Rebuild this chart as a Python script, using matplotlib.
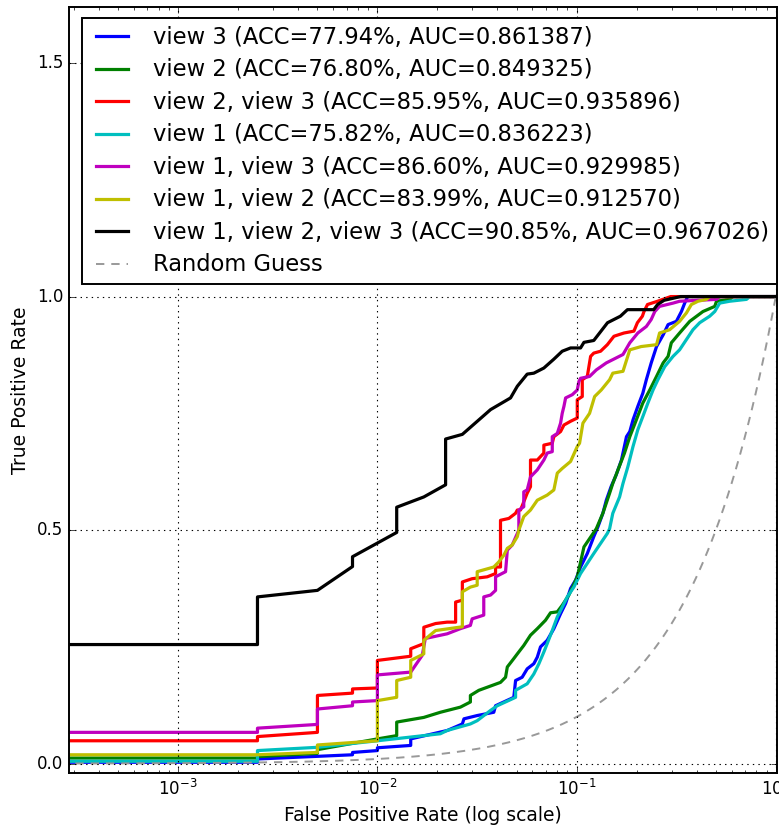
import numpy as np
import matplotlib
matplotlib.use("Agg")
from matplotlib import pyplot as plt

# ROC points (false positive rate, true positive rate) for each view combination
fpr_v3 = [0, 0.0025, 0.0025, 0.0075, 0.0075, 0.01, 0.01, 0.0147, 0.0147, 0.0224, 0.0267,
          0.0272, 0.0317, 0.0384, 0.0392, 0.0484, 0.0494, 0.0533, 0.0565, 0.061, 0.0635,
          0.0659, 0.0712, 0.0769, 0.0831, 0.0881, 0.0933, 0.0989, 0.1047, 0.1132, 0.122,
          0.128, 0.1355, 0.141, 0.149, 0.158, 0.168, 0.178, 0.185, 0.192, 0.203, 0.215,
          0.224, 0.237, 0.252, 0.272, 0.288, 0.317, 0.336, 0.349, 0.356, 0.361, 1.0]
tpr_v3 = [0.003, 0.003, 0.010, 0.019, 0.024, 0.028, 0.034, 0.039, 0.053, 0.071, 0.085,
          0.096, 0.103, 0.110, 0.124, 0.142, 0.178, 0.185, 0.203, 0.214, 0.228,
          0.250, 0.264, 0.289, 0.321, 0.343, 0.375, 0.393, 0.421, 0.450, 0.486,
          0.507, 0.536, 0.564, 0.593, 0.618, 0.650, 0.700, 0.711, 0.736, 0.765, 0.793,
          0.822, 0.858, 0.893, 0.918, 0.940, 0.947, 0.968, 0.986, 0.994, 1.0, 1.0]

fpr_v2 = [0, 0.0025, 0.0025, 0.005, 0.005, 0.01, 0.0125, 0.0125, 0.0171, 0.0207, 0.0261,
          0.0293, 0.0293, 0.0323, 0.0415, 0.044, 0.0449, 0.0484, 0.0504, 0.0543, 0.0587,
          0.0635, 0.0698, 0.074, 0.080, 0.0847, 0.0915, 0.1008, 0.1089, 0.1256, 0.1355,
          0.1465, 0.152, 0.1614, 0.174, 0.185, 0.1995, 0.215, 0.233, 0.252, 0.272, 0.288,
          0.299, 0.329, 0.370, 0.431, 0.494, 0.504, 0.587, 0.610, 1.0]
tpr_v2 = [0.012, 0.012, 0.015, 0.022, 0.030, 0.053, 0.060, 0.089, 0.099, 0.110, 0.121,
          0.132, 0.146, 0.157, 0.174, 0.185, 0.207, 0.225, 0.235, 0.253, 0.275,
          0.289, 0.307, 0.323, 0.325, 0.339, 0.361, 0.400, 0.464, 0.503, 0.536,
          0.579, 0.600, 0.629, 0.665, 0.700, 0.736, 0.772, 0.800, 0.829, 0.858, 0.872,
          0.901, 0.922, 0.947, 0.968, 0.979, 0.990, 0.994, 1.0, 1.0]

fpr_v23 = [0, 0.0025, 0.0025, 0.005, 0.005, 0.0075, 0.0075, 0.01, 0.01, 0.0147, 0.0147,
           0.0171, 0.0171, 0.0196, 0.0224, 0.0247, 0.0247, 0.0267, 0.0267, 0.0299, 0.0356,
           0.0392, 0.0392, 0.0415, 0.0415, 0.0457, 0.0494, 0.0504, 0.0523, 0.0565, 0.0587,
           0.0587, 0.0635, 0.0685, 0.0685, 0.0755, 0.0769, 0.0831, 0.0864, 0.0933, 0.1008,
           0.1008, 0.1068, 0.1068, 0.1132, 0.1176, 0.122, 0.132, 0.1427, 0.154, 0.173,
           0.194, 0.202, 0.214, 0.218, 0.227, 0.255, 0.297, 1.0]
tpr_v23 = [0.048, 0.049, 0.058, 0.067, 0.146, 0.151, 0.160, 0.162, 0.221, 0.230, 0.246,
           0.257, 0.292, 0.300, 0.303, 0.303, 0.346, 0.350, 0.389, 0.396, 0.400,
           0.407, 0.421, 0.421, 0.521, 0.525, 0.536, 0.543, 0.543, 0.579, 0.593,
           0.650, 0.650, 0.665, 0.682, 0.686, 0.700, 0.711, 0.725, 0.733, 0.740,
           0.779, 0.786, 0.822, 0.829, 0.872, 0.879, 0.883, 0.897, 0.915, 0.922,
           0.926, 0.944, 0.958, 0.968, 0.983, 0.990, 1.0, 1.0]

fpr_v1 = [0, 0.0025, 0.0025, 0.005, 0.01, 0.0207, 0.0224, 0.0293, 0.0317, 0.037, 0.040,
          0.0494, 0.0494, 0.0565, 0.061, 0.0647, 0.0685, 0.0712, 0.0755, 0.080, 0.0847,
          0.0898, 0.0969, 0.1047, 0.122, 0.1427, 0.1465, 0.152, 0.1644, 0.171, 0.181,
          0.192, 0.203, 0.215, 0.228, 0.242, 0.256, 0.277, 0.305, 0.329, 0.356, 0.384,
          0.415, 0.466, 0.494, 0.523, 0.587, 0.713, 0.740, 1.0]
tpr_v1 = [0.005, 0.005, 0.028, 0.035, 0.049, 0.064, 0.071, 0.085, 0.092, 0.114, 0.124,
          0.142, 0.157, 0.171, 0.192, 0.214, 0.239, 0.257, 0.285, 0.314, 0.335,
          0.357, 0.378, 0.407, 0.450, 0.493, 0.503, 0.536, 0.571, 0.600, 0.636,
          0.679, 0.715, 0.743, 0.772, 0.800, 0.822, 0.850, 0.872, 0.886, 0.908, 0.929,
          0.944, 0.958, 0.968, 0.986, 0.990, 0.994, 1.0, 1.0]

fpr_v13 = [0, 0.0025, 0.0025, 0.005, 0.005, 0.0075, 0.0075, 0.01, 0.01, 0.0147, 0.0168,
           0.0174, 0.0224, 0.0261, 0.0293, 0.0299, 0.0342, 0.0342, 0.037, 0.0392, 0.0392,
           0.044, 0.0449, 0.0475, 0.0513, 0.0513, 0.0543, 0.0543, 0.0565, 0.0587, 0.0635,
           0.0685, 0.0712, 0.0755, 0.0755, 0.080, 0.0831, 0.0847, 0.0864, 0.0881, 0.0952,
           0.1008, 0.1027, 0.1047, 0.1162, 0.1256, 0.141, 0.152, 0.171, 0.185, 0.203,
           0.224, 0.237, 0.247, 0.261, 0.305, 0.329, 0.504, 0.523, 1.0]
tpr_v13 = [0.067, 0.067, 0.076, 0.084, 0.117, 0.124, 0.132, 0.135, 0.190, 0.196, 0.232,
           0.268, 0.278, 0.289, 0.296, 0.310, 0.318, 0.357, 0.361, 0.371, 0.400,
           0.411, 0.457, 0.468, 0.500, 0.543, 0.550, 0.582, 0.586, 0.614, 0.629,
           0.650, 0.665, 0.668, 0.700, 0.707, 0.729, 0.750, 0.765, 0.783, 0.790,
           0.800, 0.818, 0.825, 0.829, 0.843, 0.858, 0.865, 0.876, 0.901, 0.922,
           0.936, 0.951, 0.968, 0.979, 0.986, 0.990, 0.994, 1.0, 1.0]

fpr_v12 = [0, 0.0025, 0.005, 0.005, 0.01, 0.01, 0.0125, 0.0125, 0.0147, 0.0147, 0.0171,
           0.0171, 0.0196, 0.0267, 0.0267, 0.0293, 0.0317, 0.0317, 0.0384, 0.0407, 0.0431,
           0.0449, 0.0475, 0.0504, 0.0513, 0.0543, 0.0587, 0.0635, 0.0712, 0.0769, 0.080,
           0.0847, 0.0933, 0.1008, 0.1035, 0.1076, 0.1162, 0.1232, 0.133, 0.1465, 0.152,
           0.171, 0.185, 0.211, 0.252, 0.261, 0.293, 0.329, 0.356, 0.377, 0.407, 0.449,
           0.466, 1.0]
tpr_v12 = [0.019, 0.019, 0.024, 0.040, 0.049, 0.135, 0.142, 0.178, 0.185, 0.221, 0.235,
           0.264, 0.285, 0.293, 0.368, 0.378, 0.382, 0.411, 0.421, 0.432, 0.446,
           0.461, 0.468, 0.486, 0.500, 0.529, 0.543, 0.564, 0.575, 0.586, 0.622,
           0.632, 0.647, 0.679, 0.686, 0.729, 0.750, 0.786, 0.800, 0.822, 0.836,
           0.840, 0.886, 0.893, 0.897, 0.922, 0.929, 0.947, 0.965, 0.983, 0.990, 0.994,
           1.0, 1.0]

fpr_v123 = [0, 0.0025, 0.0025, 0.005, 0.0075, 0.0075, 0.0125, 0.0125, 0.0171, 0.022, 0.022,
            0.0267, 0.037, 0.0466, 0.0504, 0.0565, 0.061, 0.0685, 0.0769, 0.0847, 0.0933,
            0.1047, 0.1089, 0.122, 0.143, 0.166, 0.180, 0.244, 0.255, 0.275, 0.333, 1.0]
tpr_v123 = [0.255, 0.255, 0.357, 0.371, 0.422, 0.443, 0.495, 0.549, 0.571, 0.597, 0.695,
            0.705, 0.758, 0.783, 0.808, 0.834, 0.836, 0.847, 0.866, 0.883, 0.890,
            0.890, 0.902, 0.906, 0.944, 0.958, 0.972, 0.972, 0.983, 0.992, 1.0, 1.0]

labels = ['view 3', 'view 2', 'view 2, view 3', 'view 1', 'view 1, view 3',
          'view 1, view 2', 'view 1, view 2, view 3']
acc = [77.94, 76.80, 85.95, 75.82, 86.60, 83.99, 90.85]
auc = [0.861387, 0.849325, 0.935896, 0.836223, 0.929985, 0.912570, 0.967026]
colors = ['b', 'g', 'r', 'c', 'm', 'y', 'k']

curves = [(fpr_v3, tpr_v3), (fpr_v2, tpr_v2), (fpr_v23, tpr_v23), (fpr_v1, tpr_v1),
          (fpr_v13, tpr_v13), (fpr_v12, tpr_v12), (fpr_v123, tpr_v123)]

plt.style.use('classic')
plt.rcParams['font.family'] = 'DejaVu Sans'
plt.rcParams['font.size'] = 12
plt.rcParams['axes.linewidth'] = 1.4

fig = plt.figure(figsize=(7.79, 8.31), facecolor='white')
ax = fig.add_axes([0.0886, 0.0698, 0.9089, 0.9218])

for (fpr, tpr), lab, a, u, c in zip(curves, labels, acc, auc, colors):
    ax.plot(fpr, tpr, color=c, lw=2.3,
            label='%s (ACC=%.2f%%, AUC=%.6f)' % (lab, a, u))

# chance line y = x
xs = np.logspace(-4, 0, 400)
ax.plot(xs, xs, ls='--', color='0.6', lw=1.4, dashes=(6, 5), label='Random Guess')

ax.set_xscale('log', nonpositive='clip')
ax.set_xlim(2.83e-4, 1.015)
ax.set_ylim(-0.02, 1.62)
ax.set_yticks([0.0, 0.5, 1.0, 1.5])
ax.grid(True, which='major', ls=':', color='k', lw=0.8)

ax.set_xlabel('False Positive Rate (log scale)', fontsize=13.5)
ax.set_ylabel('True Positive Rate', fontsize=13.5)
ax.tick_params(labelsize=12)

leg = ax.legend(loc='upper right', bbox_to_anchor=(1.0, 0.9856), borderaxespad=0,
                fontsize=16.3, labelspacing=0.42, numpoints=2, handlelength=2.0,
                handletextpad=0.8, borderpad=0.35, fancybox=False)
leg.get_frame().set_linewidth(1.4)

fig.savefig('out.png', dpi=100, facecolor='white')
